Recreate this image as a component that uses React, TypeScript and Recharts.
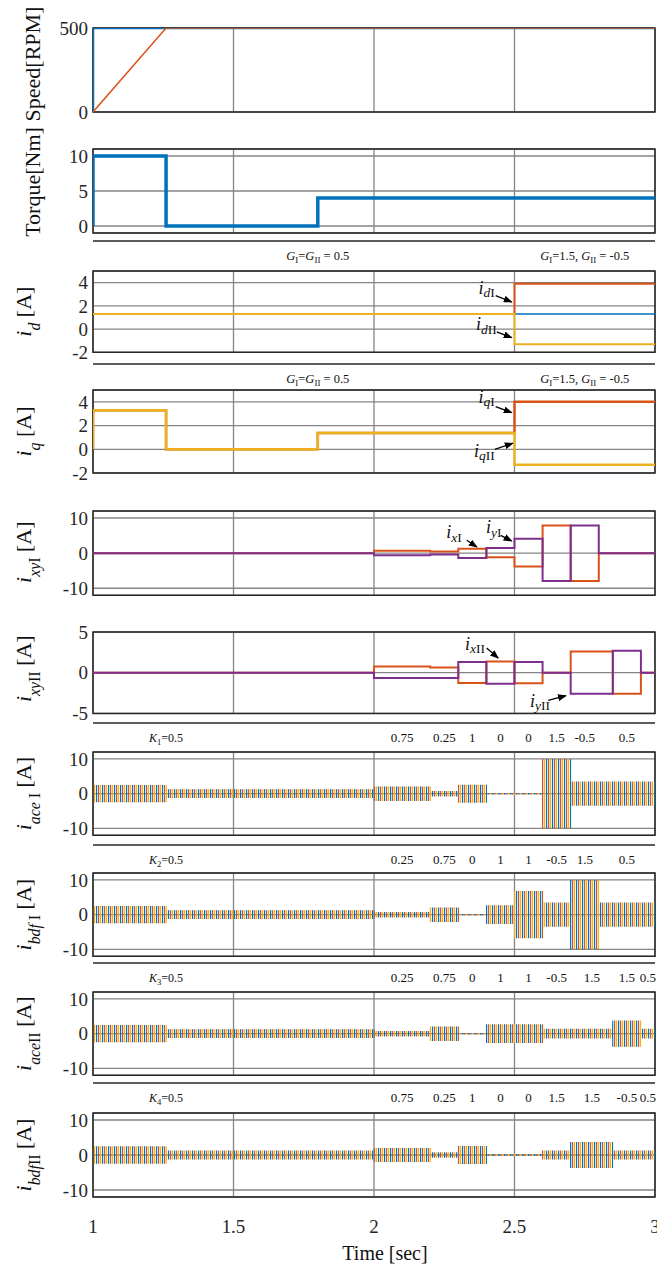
import React from 'react';
import {
  ComposedChart,
  Line,
  Area,
  XAxis,
  YAxis,
  CartesianGrid,
  ReferenceArea,
  ReferenceLine,
  ReferenceDot,
} from 'recharts';

const W = 657;
const H = 1267;
const LEFT = 93;
const RIGHT_PAD = 2;
const Y_AXIS_W = 40;
const PAD = 10;

const BLUE = '#0072BD';
const ORANGE = '#D95319';
const YELLOW = '#EDB120';
const PURPLE = '#7E2F8E';
const GRID = '#858585';
const INK = '#262626';
const SERIF = '"Liberation Serif", "Times New Roman", Times, serif';

// ---------- data ----------
const timeTicks = [1, 1.5, 2, 2.5, 3];

const speedRefT = [1, 1, 3];
const speedRef = [0, 500, 500];
const speedT = [1, 1.26, 3];
const speed = [0, 500, 500];

const torqueT = [1, 1, 1.26, 1.8, 3];
const torque = [0, 10, 0, 4, 4];

const idT = [1, 2.5, 3];
const idAll = [1.3, 1.3, 1.3];
const idI = [1.3, 3.9, 3.9];
const idII = [1.3, -1.3, -1.3];

const iqT = [1, 1, 1.26, 1.8, 2.5, 3];
const iqI = [0, 3.3, 0, 1.37, 4.0, 4.0];
const iqII = [0, 3.3, 0, 1.37, -1.3, -1.3];

const xyIT = [1, 2, 2.2, 2.3, 2.4, 2.5, 2.6, 2.7, 2.8, 3];
const ixI = [0, 0.7, 0.5, 1.25, -1.15, -3.8, 7.9, -7.9, 0, 0];
const iyI = [0, -0.6, -0.4, -1.4, 1.5, 4.1, -7.9, 7.9, 0, 0];

const xyIIT = [1, 2, 2.2, 2.3, 2.4, 2.5, 2.6, 2.7, 2.85, 2.95, 3];
const ixII = [0, 0.75, 0.65, -1.27, 1.39, -1.3, 0, 2.6, -2.6, 0, 0];
const iyII = [0, -0.65, -0.65, 1.3, -1.35, 1.3, 0, -2.6, 2.7, 0, 0];

// peak value of the three phase currents in each interval
const aceIT = [1, 1.26, 2, 2.2, 2.3, 2.4, 2.6, 2.7, 3];
const aceIPeak = [2.3, 1.1, 1.9, 0.6, 2.4, 0, 9.8, 3.3, 3.3];
const bdfIT = [1, 1.26, 2, 2.2, 2.3, 2.4, 2.5, 2.6, 2.7, 2.8, 3];
const bdfIPeak = [2.3, 1.1, 0.6, 1.9, 0, 2.5, 6.6, 3.3, 9.8, 3.3, 3.3];
const aceIIT = [1, 1.26, 2, 2.2, 2.3, 2.4, 2.6, 2.85, 2.95, 3];
const aceIIPeak = [2.3, 1.1, 0.6, 1.9, 0, 2.5, 1.2, 3.6, 1.2, 1.2];
const bdfIIT = [1, 1.26, 2, 2.2, 2.3, 2.4, 2.6, 2.7, 2.85, 3];
const bdfIIPeak = [2.3, 1.1, 1.8, 0.6, 2.4, 0, 1.1, 3.5, 1.1, 1.1];

// gain strips above the panels
const gBounds = [1, 2.5, 3];
const gNotes = ['$G$_{I}=$G$_{II} = 0.5', '$G$_{I}=1.5, $G$_{II} = -0.5'];
const gNoteAt = [1.8, 2.75];

const kBoundsA = [1, 2, 2.2, 2.3, 2.4, 2.5, 2.6, 2.7, 2.8, 3];
const kBoundsB = [1, 2, 2.2, 2.3, 2.4, 2.5, 2.6, 2.7, 2.85, 2.95, 3];
const k1 = ['0.75', '0.25', '1', '0', '0', '1.5', '-0.5', '0.5'];
const k2 = ['0.25', '0.75', '0', '1', '1', '-0.5', '1.5', '0.5'];
const k3 = ['0.25', '0.75', '0', '1', '1', '-0.5', '1.5', '1.5', '0.5'];
const k4 = ['0.75', '0.25', '1', '0', '0', '1.5', '1.5', '-0.5', '0.5'];
const kTitles = ['$K$_{1}=0.5', '$K$_{2}=0.5', '$K$_{3}=0.5', '$K$_{4}=0.5'];
const kTitleAt = 1.26;

// annotations: text anchor (t, v) and arrows [t1, v1, t2, v2]
const idNotes = [
  { t: 2.43, v: 3.0, text: '$i$_{$d$I}' },
  { t: 2.437, v: -0.11, text: '$i$_{$d$II}' },
];
const idArrows = [
  [2.433, 2.88, 2.49, 2.33],
  [2.437, -0.25, 2.49, -0.74],
];
const iqNotes = [
  { t: 2.43, v: 3.9, text: '$i$_{$q$I}' },
  { t: 2.43, v: -0.65, text: '$i$_{$q$II}' },
];
const iqArrows = [
  [2.433, 3.6, 2.49, 3.09],
  [2.43, 0.0, 2.494, 0.51],
];
const xyINotes = [
  { t: 2.312, v: 4.2, text: '$i$_{$x$I}' },
  { t: 2.454, v: 5.6, text: '$i$_{$y$I}' },
];
const xyIArrows = [
  [2.33, 3.65, 2.366, 1.74],
  [2.451, 5.08, 2.49, 3.45],
];
const xyIINotes = [
  { t: 2.395, v: 2.83, text: '$i$_{$x$II}' },
  { t: 2.626, v: -4.21, text: '$i$_{$y$II}' },
];
const xyIIArrows = [
  [2.401, 3.03, 2.442, 1.8],
  [2.62, -3.4, 2.683, -2.83],
];

// ---------- helpers ----------
const pts = (ts: number[], vs: number[]) => ts.map((t, i) => ({ t, v: vs[i] }));
const band = (ts: number[], peaks: number[]) => ts.map((t, i) => ({ t, r: [-peaks[i], peaks[i]] }));

type Seg = { text: string; it: boolean; sub: boolean };
function parseRich(s: string): Seg[] {
  const out: Seg[] = [];
  let it = false;
  let sub = false;
  let buf = '';
  const flush = () => {
    if (buf) out.push({ text: buf, it, sub });
    buf = '';
  };
  for (let i = 0; i < s.length; i++) {
    const c = s[i];
    if (c === '$') {
      flush();
      it = !it;
    } else if (c === '_' && s[i + 1] === '{') {
      flush();
      sub = true;
      i++;
    } else if (c === '}' && sub) {
      flush();
      sub = false;
    } else buf += c;
  }
  flush();
  return out;
}

function Rich({ x, y, text, size, anchor = 'middle', rotate = false, subShift = 0.3, subScale = 0.72 }: any) {
  const segs = parseRich(text);
  const shift = size * subShift;
  let inSub = false;
  const spans = segs.map((s, i) => {
    let dy = 0;
    if (s.sub && !inSub) dy = shift;
    else if (!s.sub && inSub) dy = -shift;
    inSub = s.sub;
    return (
      <tspan key={i} dy={dy || undefined} fontStyle={s.it ? 'italic' : 'normal'} fontSize={s.sub ? size * subScale : size}>
        {s.text}
      </tspan>
    );
  });
  return (
    <text
      x={x}
      y={y}
      textAnchor={anchor}
      fontFamily={SERIF}
      fontSize={size}
      fill="#111"
      style={{ whiteSpace: 'pre' }}
      transform={rotate ? `rotate(-90 ${x} ${y})` : undefined}
    >
      {spans}
    </text>
  );
}

const tickStyle = { fontSize: 19, fill: INK, fontFamily: SERIF };

function Panel({ top, bottom, domain, ticks, label, labelX, labelShift = 0, last = false, children }: any) {
  const boxH = bottom - top;
  const chartTop = top - PAD;
  const xAxisH = 40;
  const height = last ? H - chartTop : boxH + 2 * PAD;
  const marginBottom = last ? H - bottom - xAxisH : PAD;
  const midY = PAD + boxH / 2 + labelShift;
  return (
    <div style={{ position: 'absolute', left: 0, top: chartTop }}>
      <ComposedChart
        width={W}
        height={height}
        margin={{ top: PAD, right: RIGHT_PAD, bottom: marginBottom, left: LEFT - Y_AXIS_W }}
      >
        <CartesianGrid stroke={GRID} strokeWidth={1.3} />
        <XAxis
          type="number"
          dataKey="t"
          domain={[1, 3]}
          ticks={timeTicks}
          allowDataOverflow
          hide={!last}
          height={xAxisH}
          axisLine={false}
          tickLine={false}
          tickSize={0}
          tickMargin={23}
          interval={0}
          tick={tickStyle}
          label={
            last
              ? { content: () => <Rich x={385} y={height - 7} text="Time [sec]" size={20} /> }
              : undefined
          }
        />
        <YAxis
          type="number"
          domain={domain}
          ticks={ticks}
          allowDataOverflow
          width={Y_AXIS_W}
          axisLine={false}
          tickLine={false}
          tickSize={0}
          tickMargin={5}
          interval={0}
          tick={tickStyle}
          label={{ content: () => <Rich x={labelX} y={midY} text={label} size={22} rotate subShift={0.4} /> }}
        />
        <ReferenceArea x1={1} x2={3} y1={domain[0]} y2={domain[1]} fill="none" stroke={INK} strokeWidth={1.5} />
        {children}
      </ComposedChart>
    </div>
  );
}

function Strip({ y, bounds, notes }: any) {
  return (
    <div style={{ position: 'absolute', left: 0, top: y - 2 }}>
      <ComposedChart
        width={W}
        height={32}
        data={bounds.map((t: number) => ({ t, y: 0.5 }))}
        margin={{ top: 2, right: RIGHT_PAD, bottom: 2, left: LEFT }}
      >
        <XAxis
          type="number"
          dataKey="t"
          domain={[1, 3]}
          orientation="top"
          mirror
          ticks={bounds}
          interval={0}
          tick={false}
          tickSize={5}
          axisLine={{ stroke: INK, strokeWidth: 1.5 }}
          tickLine={{ stroke: INK, strokeWidth: 1.5 }}
        />
        <YAxis hide type="number" dataKey="y" domain={[0, 1]} allowDataOverflow />
        {notes.map((n: any, i: number) => (
          <ReferenceDot
            key={i}
            x={n.t}
            y={0.5}
            ifOverflow="visible"
            shape={(p: any) => <Rich x={p.cx} y={p.cy + 4.5} text={n.text} size={n.size} />}
          />
        ))}
      </ComposedChart>
    </div>
  );
}

const kNotes = (bounds: number[], labels: string[], title: string) => [
  { t: kTitleAt, text: title, size: 12 },
  ...labels.map((text, i) => ({ t: (bounds[i + 1] + bounds[i + 2]) / 2, text, size: 13 })),
];
const gStripNotes = gNotes.map((text, i) => ({ t: gNoteAt[i], text, size: 12.5 }));

const line = (key: string, data: any[], color: string, width = 2, type: any = 'stepAfter') => (
  <Line
    key={key}
    data={data}
    dataKey="v"
    type={type}
    stroke={color}
    strokeWidth={width}
    dot={false}
    activeDot={false}
    isAnimationActive={false}
  />
);

const phases = (key: string, data: any[]) => (
  <Area
    key={key}
    data={data}
    dataKey="r"
    type="stepAfter"
    fill="url(#phaseStripes)"
    fillOpacity={1}
    stroke="url(#phaseStripes)"
    strokeWidth={1.3}
    dot={false}
    activeDot={false}
    isAnimationActive={false}
  />
);

const notes = (key: string, list: any[], arrows: number[][]) => [
  ...list.map((n, i) => (
    <ReferenceDot
      key={`${key}n${i}`}
      x={n.t}
      y={n.v}
      shape={(p: any) => <Rich x={p.cx} y={p.cy} text={n.text} size={18} anchor="end" subShift={0.18} subScale={0.75} />}
    />
  )),
  ...arrows.map((a, i) => (
    <ReferenceLine
      key={`${key}a${i}`}
      segment={[
        { x: a[0], y: a[1] },
        { x: a[2], y: a[3] },
      ]}
      shape={(p: any) => (
        <line x1={p.x1} y1={p.y1} x2={p.x2} y2={p.y2} stroke="#000" strokeWidth={1.3} markerEnd="url(#arrowHead)" />
      )}
    />
  )),
];

export default function App() {
  return (
    <div style={{ position: 'absolute', left: 0, top: 0, width: W, height: H, background: '#fff', fontFamily: SERIF }}>
      <style>{`svg.recharts-surface { overflow: visible; } svg.recharts-surface text { font-family: ${SERIF} !important; }`}</style>
      <svg width={0} height={0} style={{ position: 'absolute' }}>
        <defs>
          <pattern id="phaseStripes" patternUnits="userSpaceOnUse" width={6} height={6}>
            <rect x={0} y={0} width={1.2} height={6} fill={BLUE} />
            <rect x={2} y={0} width={1.2} height={6} fill={ORANGE} />
            <rect x={4} y={0} width={1.2} height={6} fill={YELLOW} />
          </pattern>
          <marker id="arrowHead" markerWidth={9} markerHeight={7} refX={8} refY={3.5} orient="auto" markerUnits="userSpaceOnUse">
            <path d="M0,0 L9,3.5 L0,7 z" fill="#000" />
          </marker>
        </defs>
      </svg>

      <Panel top={28} bottom={112} domain={[0, 500]} ticks={[0, 500]} label="Speed[RPM]" labelX={40} labelShift={-6}>
        {[
          line('sr', pts(speedRefT, speedRef), BLUE, 2.5, 'linear'),
          line('sm', pts(speedT, speed), ORANGE, 1.5, 'linear'),
        ]}
      </Panel>

      <Panel top={149.3} bottom={233.3} domain={[-1, 11]} ticks={[0, 5, 10]} label="Torque[Nm]" labelX={40} labelShift={-9}>
        {[line('tq', pts(torqueT, torque), BLUE, 3.5)]}
      </Panel>

      <Strip y={241} bounds={gBounds} notes={gStripNotes} />

      <Panel top={270.7} bottom={352} domain={[-2, 5]} ticks={[-2, 0, 2, 4]} label="$i$_{$d$} [A]" labelX={31}>
        {[
          line('ida', pts(idT, idAll), BLUE, 1.5),
          line('id1', pts(idT, idI), ORANGE, 2),
          line('id2', pts(idT, idII), YELLOW, 2),
          ...notes('idn', idNotes, idArrows),
        ]}
      </Panel>

      <Strip y={364.3} bounds={gBounds} notes={gStripNotes} />

      <Panel top={390} bottom={473} domain={[-2, 5]} ticks={[-2, 0, 2, 4]} label="$i$_{$q$} [A]" labelX={31}>
        {[
          line('iq1', pts(iqT, iqI), ORANGE, 2.5),
          line('iq2', pts(iqT, iqII), YELLOW, 2.5),
          ...notes('iqn', iqNotes, iqArrows),
        ]}
      </Panel>

      <Panel top={510.7} bottom={595} domain={[-12, 12]} ticks={[-10, 0, 10]} label="$i$_{$xy$I} [A]" labelX={31} labelShift={-1}>
        {[
          line('ix1', pts(xyIT, ixI), ORANGE, 2),
          line('iy1', pts(xyIT, iyI), PURPLE, 2),
          ...notes('xy1n', xyINotes, xyIArrows),
        ]}
      </Panel>

      <Panel top={632.3} bottom={713.7} domain={[-5, 5]} ticks={[-5, 0, 5]} label="$i$_{$xy$II} [A]" labelX={31} labelShift={-4}>
        {[
          line('ix2', pts(xyIIT, ixII), ORANGE, 2),
          line('iy2', pts(xyIIT, iyII), PURPLE, 2),
          ...notes('xy2n', xyIINotes, xyIIArrows),
        ]}
      </Panel>

      <Strip y={723.3} bounds={kBoundsA} notes={kNotes(kBoundsA, k1, kTitles[0])} />

      <Panel top={751.7} bottom={835} domain={[-12, 12]} ticks={[-10, 0, 10]} label="$i$_{$ace$ I} [A]" labelX={31}>
        {[phases('ace1', band(aceIT, aceIPeak))]}
      </Panel>

      <Strip y={845} bounds={kBoundsA} notes={kNotes(kBoundsA, k2, kTitles[1])} />

      <Panel top={872.7} bottom={956} domain={[-12, 12]} ticks={[-10, 0, 10]} label="$i$_{$bdf$ I} [A]" labelX={31}>
        {[phases('bdf1', band(bdfIT, bdfIPeak))]}
      </Panel>

      <Strip y={963} bounds={kBoundsB} notes={kNotes(kBoundsB, k3, kTitles[2])} />

      <Panel top={991.7} bottom={1075} domain={[-12, 12]} ticks={[-10, 0, 10]} label="$i$_{$ace$II} [A]" labelX={31}>
        {[phases('ace2', band(aceIIT, aceIIPeak))]}
      </Panel>

      <Strip y={1083.3} bounds={kBoundsB} notes={kNotes(kBoundsB, k4, kTitles[3])} />

      <Panel top={1112.7} bottom={1196.7} domain={[-12, 12]} ticks={[-10, 0, 10]} label="$i$_{$bdf$II} [A]" labelX={31} last>
        {[phases('bdf2', band(bdfIIT, bdfIIPeak))]}
      </Panel>
    </div>
  );
}
